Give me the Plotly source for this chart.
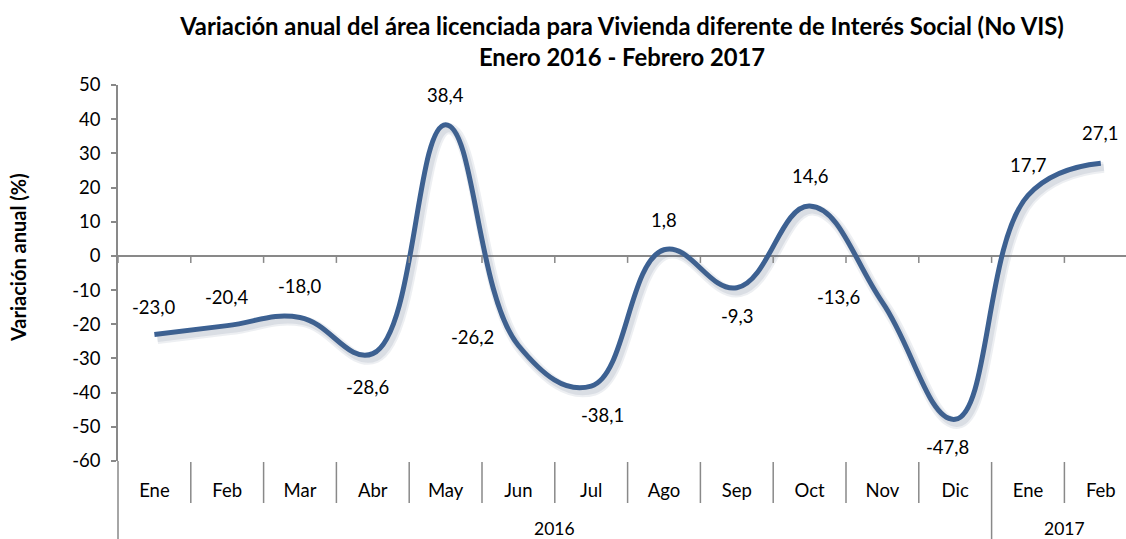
import plotly.graph_objects as go

# ---- data ----
months = ["Ene", "Feb", "Mar", "Abr", "May", "Jun", "Jul", "Ago", "Sep", "Oct", "Nov", "Dic", "Ene", "Feb"]
years = ["2016"] * 12 + ["2017"] * 2
values = [-23.0, -20.4, -18.0, -28.6, 38.4, -26.2, -38.1, 1.8, -9.3, 14.6, -13.6, -47.8, 17.7, 27.1]
y_ticks = [50, 40, 30, 20, 10, 0, -10, -20, -30, -40, -50, -60]

# ---- styles ----
label_offsets = [(0, 28), (0, 29), (0, 31), (-5, -33), (0, 30), (-46, 8), (11, -29),
                 (0, 30), (1, -28), (0, 30), (-44, 5), (-8, -28), (0, 30), (-1, 30)]
FONT = "Lato"
LINE_COLOR = "#3B6194"
AXIS_COLOR = "#898989"
LBL_SIZE = 18.5
SMOOTH = 1.2

W, H = 1126, 539
L, R, T, B = 118, 0, 85, 78
n = len(months)
cat_w = 72.8
x_pos = list(range(n))
x_range = [-0.5, -0.5 + (W - L - R) / cat_w]
y_range = [-60, 50]
plot_h = H - T - B
px_x = (x_range[1] - x_range[0]) / (W - L - R)
px_y = (y_range[1] - y_range[0]) / plot_h

fig = go.Figure()

# soft shadow (offset a few pixels down-right on overlay axes)
sdx, sdy = 3, 4
fig.add_trace(go.Scatter(
    x=x_pos, y=values, mode="lines", line=dict(color="rgba(80,100,130,0.10)", width=11, shape="spline", smoothing=SMOOTH),
    xaxis="x2", yaxis="y2", hoverinfo="skip", showlegend=False))
fig.add_trace(go.Scatter(
    x=x_pos, y=values, mode="lines", line=dict(color="rgba(80,100,130,0.12)", width=7, shape="spline", smoothing=SMOOTH),
    xaxis="x2", yaxis="y2", hoverinfo="skip", showlegend=False))

fig.add_trace(go.Scatter(
    x=x_pos, y=values, mode="lines",
    line=dict(color=LINE_COLOR, width=5, shape="spline", smoothing=SMOOTH),
    showlegend=False))

# data labels
for i, v in enumerate(values):
    dx, dy = label_offsets[i]
    fig.add_annotation(x=x_pos[i], y=v, xref="x", yref="y", text=f"{v:.1f}".replace(".", ","),
                       showarrow=False, xshift=dx, yshift=dy,
                       font=dict(family=FONT, size=LBL_SIZE, color="#000000"))

shapes = []
# ticks on the zero line at category boundaries
for i in range(n + 1):
    shapes.append(dict(type="line", xref="x", yref="y", x0=i - 0.5, x1=i - 0.5,
                       ysizemode="pixel", yanchor=0, y0=0, y1=-7,
                       line=dict(color=AXIS_COLOR, width=1.5)))
# category separators below plot
for i in range(1, n):
    year_break = years[i] != years[i - 1]
    shapes.append(dict(type="line", xref="x", yref="paper", x0=i - 0.5, x1=i - 0.5,
                       ysizemode="pixel", yanchor=0, y0=-1, y1=-B if year_break else -42,
                       line=dict(color=AXIS_COLOR, width=1.5)))
# left axis extension
shapes.append(dict(type="line", xref="paper", yref="paper", x0=0, x1=0,
                   ysizemode="pixel", yanchor=0, y0=0, y1=-B,
                   line=dict(color=AXIS_COLOR, width=1.5)))

# year labels
for yr in dict.fromkeys(years):
    idx = [i for i, y in enumerate(years) if y == yr]
    fig.add_annotation(x=sum(idx) / len(idx), y=0, xref="x", yref="paper", yshift=-67,
                       text=yr, showarrow=False, yanchor="middle", xanchor="center",
                       font=dict(family=FONT, size=17.5, color="#000000"))

# y axis title
fig.add_annotation(x=0, y=0.5, xref="paper", yref="paper", xshift=-100, yshift=15,
                   text="<b>Variación anual (%)</b>", textangle=-90, showarrow=False,
                   xanchor="center", yanchor="middle",
                   font=dict(family=FONT, size=20, color="#000000"))

fig.update_layout(
    width=W, height=H,
    margin=dict(l=L, r=R, t=T, b=B),
    paper_bgcolor="white", plot_bgcolor="white",
    title=dict(text="<b>Variación anual del área licenciada para Vivienda diferente de Interés Social (No VIS)<br>Enero 2016 - Febrero 2017</b>",
               x=0.5, xref="paper", xanchor="center", y=1 - 35 / H, yref="container", yanchor="middle",
               font=dict(family=FONT, size=23.8, color="#000000")),
    shapes=shapes,
    xaxis=dict(range=x_range, tickmode="array", tickvals=x_pos, ticktext=months,
               showline=False, showgrid=False, zeroline=False, ticks="",
               ticklabelstandoff=16,
               tickfont=dict(family=FONT, size=LBL_SIZE, color="#000000")),
    yaxis=dict(range=y_range, tickmode="array", tickvals=y_ticks, ticktext=[str(t) for t in y_ticks],
               showline=True, linecolor=AXIS_COLOR, linewidth=1.5,
               ticks="outside", ticklen=5, tickcolor=AXIS_COLOR, tickwidth=1.5,
               ticklabelstandoff=7,
               showgrid=False, zeroline=True, zerolinecolor=AXIS_COLOR, zerolinewidth=1.5,
               tickfont=dict(family=FONT, size=LBL_SIZE, color="#000000")),
    xaxis2=dict(overlaying="x", range=[x_range[0] - sdx * px_x, x_range[1] - sdx * px_x], visible=False),
    yaxis2=dict(overlaying="y", range=[y_range[0] + sdy * px_y, y_range[1] + sdy * px_y], visible=False),
)

fig.write_html("out.html", config={"displayModeBar": False},
               post_script="document.body.style.margin='0';document.body.style.overflow='hidden';")
